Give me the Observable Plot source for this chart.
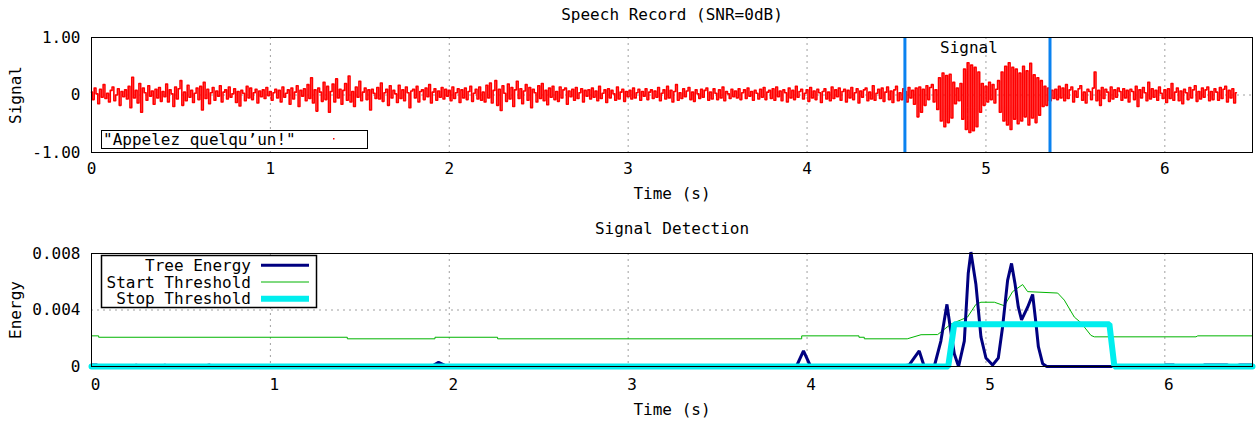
<!DOCTYPE html>
<html>
<head>
<meta charset="utf-8">
<script src="https://cdn.jsdelivr.net/npm/d3@7"></script>
<script src="https://cdn.jsdelivr.net/npm/@observablehq/plot@0.6"></script>
<style>
  body { margin: 0; background: white; }
  #chart svg { display: block; }
</style>
</head>
<body>
<div id="chart"></div>
<script>
// ---------- data ----------
const sampleStep = 0.01; // seconds between signal samples
const signal = [
 0.05,-0.08,0.12,0.02,-0.15,0.10,-0.04,0.18,-0.06,0.03,-0.12,0.08,0.14,-0.10,0.00,0.11,-0.18,0.06,-0.03,0.09,
 -0.07,0.15,-0.22,0.31,-0.05,0.08,-0.14,0.20,-0.30,0.12,0.04,-0.09,0.16,-0.02,0.07,-0.16,0.10,-0.05,0.13,-0.11,
 0.06,-0.03,0.19,-0.12,0.09,0.02,-0.20,0.14,-0.07,0.11,0.25,-0.18,0.05,-0.10,0.17,-0.04,0.08,-0.13,0.03,0.12,
 -0.08,0.15,-0.26,0.22,-0.06,0.10,-0.15,0.04,0.13,-0.09,0.07,-0.02,0.16,-0.12,0.05,0.09,-0.07,0.14,-0.04,0.02,
 0.11,-0.13,0.06,-0.19,0.08,0.03,-0.10,0.15,-0.05,0.12,-0.08,0.04,0.10,-0.14,0.07,-0.03,0.09,-0.06,0.13,-0.01,
 0.06,-0.09,0.04,0.10,-0.05,0.08,-0.12,0.14,-0.04,0.03,0.09,-0.16,0.12,-0.07,0.05,0.16,-0.20,0.08,-0.02,0.11,
 -0.10,0.18,-0.06,0.30,-0.14,0.09,-0.28,0.12,0.05,-0.11,0.22,-0.08,0.15,-0.30,0.06,0.19,-0.12,0.28,-0.05,0.10,
 -0.16,0.08,0.20,-0.09,0.33,-0.12,0.06,-0.20,0.14,-0.04,0.24,-0.10,0.05,0.12,-0.08,0.09,-0.26,0.10,0.03,-0.06,
 0.13,-0.07,0.21,-0.11,0.04,0.10,-0.18,0.16,-0.05,0.08,0.02,-0.13,0.17,-0.06,0.09,-0.10,0.14,0.04,-0.22,0.07,
 0.10,-0.05,0.15,-0.12,0.06,0.09,-0.08,0.12,-0.03,0.18,-0.14,0.05,0.11,-0.09,0.07,-0.04,0.13,-0.07,0.10,-0.02,
 0.08,-0.10,0.14,-0.06,0.04,0.11,-0.13,0.09,-0.05,0.12,-0.08,0.06,0.15,-0.11,0.03,0.10,-0.07,0.14,-0.09,0.05,
 -0.12,0.17,-0.05,0.21,-0.14,0.08,0.25,-0.18,0.10,-0.27,0.16,0.03,-0.11,0.19,-0.07,0.13,-0.20,0.09,0.24,-0.06,
 0.11,-0.15,0.07,0.18,-0.09,0.13,-0.22,0.10,0.04,-0.12,0.16,-0.06,0.20,-0.10,0.08,-0.17,0.12,-0.04,0.15,-0.08,
 0.06,-0.11,0.14,-0.05,0.09,0.12,-0.16,0.07,-0.03,0.10,-0.09,0.13,-0.06,0.04,0.11,-0.12,0.08,-0.02,0.09,-0.07,
 0.12,-0.04,0.07,-0.10,0.15,-0.06,0.03,0.09,-0.13,0.11,-0.05,0.08,0.02,-0.09,0.14,-0.07,0.05,0.10,-0.11,0.06,
 -0.03,0.08,-0.07,0.12,-0.05,0.04,0.10,-0.09,0.06,-0.02,0.11,-0.08,0.05,0.09,-0.06,0.07,-0.04,0.13,-0.10,0.03,
 0.09,-0.07,0.15,-0.05,0.08,-0.12,0.06,0.18,-0.09,0.04,-0.06,0.11,-0.03,0.07,0.13,-0.08,0.05,-0.11,0.09,0.02,
 -0.06,0.10,-0.04,0.08,0.12,-0.09,0.05,-0.07,0.11,0.03,-0.08,0.09,-0.05,0.14,-0.10,0.06,0.02,-0.06,0.10,-0.03,
 0.07,-0.05,0.11,-0.08,0.04,0.09,-0.06,0.12,-0.02,0.06,-0.09,0.08,0.03,-0.07,0.10,-0.04,0.13,-0.08,0.05,0.08,
 -0.06,0.11,-0.09,0.14,-0.03,0.07,-0.10,0.09,0.04,-0.12,0.12,-0.05,0.08,-0.08,0.15,-0.04,0.06,0.10,-0.07,0.03,
 0.09,-0.11,0.13,-0.05,0.07,-0.08,0.10,0.04,-0.13,0.06,0.11,-0.07,0.05,-0.10,0.14,-0.06,0.09,-0.03,0.12,-0.09,
 0.06,0.10,-0.12,0.08,-0.05,0.13,-0.08,0.04,0.11,-0.14,0.07,-0.04,0.09,0.12,-0.10,0.05,-0.07,0.16,-0.09,0.03,
 0.10,-0.06,0.12,-0.11,0.05,0.14,-0.08,0.07,-0.13,0.09,0.15,-0.10,0.04,-0.08,0.11,0.06,-0.12,0.13,-0.05,0.08,
 -0.16,0.12,-0.38,0.14,-0.30,0.10,-0.18,0.16,-0.08,0.13,0.18,-0.12,0.09,-0.25,0.30,-0.45,0.38,-0.55,0.34,-0.48,
 0.36,-0.40,0.22,-0.15,0.12,-0.10,0.20,-0.42,0.45,-0.60,0.56,-0.65,0.52,-0.62,0.48,-0.55,0.40,-0.30,0.20,-0.18,
 0.15,-0.12,0.22,-0.08,0.18,-0.14,0.10,0.25,-0.30,0.40,-0.45,0.50,-0.52,0.56,-0.60,0.48,-0.42,0.45,-0.50,0.38,
 -0.45,0.50,-0.38,0.42,-0.52,0.55,-0.40,0.35,-0.48,0.30,-0.35,0.25,-0.20,0.15,-0.18,0.12,-0.10,0.08,-0.06,0.10,
 -0.08,0.15,-0.05,0.12,-0.10,0.18,-0.06,0.09,0.14,-0.12,0.07,-0.04,0.11,0.16,-0.09,0.05,-0.14,0.10,0.06,-0.08,
 0.12,0.40,-0.10,0.08,-0.18,0.13,-0.06,0.10,0.05,-0.11,0.14,-0.07,0.09,-0.04,0.12,0.06,-0.09,0.11,-0.05,0.08,
 -0.12,0.10,0.06,-0.08,0.15,-0.20,0.09,-0.05,0.13,0.04,-0.10,0.22,-0.07,0.11,-0.04,0.08,-0.09,0.14,0.03,-0.06,
 0.09,-0.13,0.11,-0.06,0.20,-0.09,0.05,0.12,-0.10,0.07,-0.15,0.10,0.04,-0.08,0.13,-0.05,0.09,0.16,-0.11,0.06,
 -0.07,0.12,-0.04,0.09,0.14,-0.10,0.06,-0.08,0.11,0.05,-0.09,0.13,-0.06,0.10,0.15,-0.12,0.08,-0.05,0.11,-0.14,
 0.04
];
const signalBounds = [4.547, 5.358];
const signalLabel = "Signal";
const signalLabelPos = [4.905, 0.82];

const treeT = [0,0.03,0.06,0.22,0.25,0.28,0.38,0.41,0.44,0.62,0.66,0.69,1.90,1.94,1.99,3.94,3.98,4.02,4.52,4.57,4.627,4.655,4.711,4.748,4.782,4.80,4.823,4.847,4.879,4.901,4.916,4.944,4.972,5.0,5.037,5.069,5.093,5.121,5.143,5.162,5.181,5.199,5.233,5.261,5.28,5.293,5.317,5.34,5.98,6.0,6.05,6.08,6.2,6.22,6.35,6.38,6.42,6.49];
const treeE = [0.0001,0.0001,0,0,0.0001,0,0,0.0001,0,0,0.0001,0,0,0.0003,0,0,0.0011,0,0,0.0001,0.0011,0,0,0.0018,0.0044,0.0028,0.0009,0,0.0018,0.0066,0.0081,0.0058,0.0021,0.0006,0.0001,0.0006,0.0028,0.0061,0.0073,0.0059,0.0042,0.0033,0.0042,0.0051,0.003,0.0014,0.0002,0,0,0.0001,0.0001,0,0,0.0001,0.0001,0,0.0001,0.0001];

const startT = [0,0.04,0.04,1.43,1.43,1.92,1.92,2.27,2.27,3.97,3.97,4.29,4.29,4.32,4.32,4.56,4.637,4.73,4.804,4.897,4.944,4.972,5.047,5.103,5.149,5.205,5.233,5.401,5.438,5.494,5.531,5.587,5.606,6.174,6.184,6.49];
const startV = [0.00217,0.00217,0.00207,0.00207,0.00196,0.00196,0.00207,0.00207,0.00196,0.00196,0.00217,0.00217,0.00207,0.00207,0.00196,0.00196,0.00225,0.00226,0.003,0.0035,0.0044,0.00455,0.00455,0.0043,0.0053,0.0058,0.0053,0.0052,0.0047,0.0035,0.0031,0.0022,0.0021,0.0021,0.00217,0.00217];

const stopT = [0,4.789,4.823,5.69,5.718,6.49];
const stopV = [0,0,0.003,0.003,0,0];

const xTicks = [0,1,2,3,4,5,6];
const xDomain = [0, 6.49];
const signalYTicks = [-1, 0, 1];
const signalYLabels = ["-1.00", "0", "1.00"];
const energyYTicks = [0, 0.004, 0.008];
const energyYLabels = ["0", "0.004", "0.008"];

const seriesNames = ["Tree Energy", "Start Threshold", "Stop Threshold"];
const seriesColors = ["#000080", "#00b400", "#00eeee"];
const seriesWidths = [3, 1, 6];
const recordName = "\"Appelez quelqu’un!\"";

// ---------- tables ----------
const signalData = signal.map((v, i) => ({t: i * sampleStep, v}));
const tree = treeT.map((t, i) => ({t, v: treeE[i]}));
const start = startT.map((t, i) => ({t, v: startV[i]}));
const stop = stopT.map((t, i) => ({t, v: stopV[i]}));

const FONT = "DejaVu Sans Mono";
const style = {fontFamily: FONT, fontSize: "16px", color: "black", background: "white", overflow: "visible"};
const gridStyle = {stroke: "#a0a0a0", strokeOpacity: 1, strokeDasharray: "2,4", strokeWidth: 1};

// ---------- top panel ----------
const topChart = Plot.plot({
  width: 1256, height: 210,
  marginLeft: 91, marginRight: 4, marginTop: 37, marginBottom: 58,
  style,
  x: {domain: xDomain},
  y: {domain: [-1, 1]},
  marks: [
    Plot.gridX(xTicks.slice(1), gridStyle),
    Plot.gridY([0], gridStyle),
    Plot.line(signalData, {x: "t", y: "v", stroke: "red", strokeWidth: 1.6, curve: "step"}),
    Plot.ruleX(signalBounds, {stroke: "#0a82f0", strokeWidth: 3}),
    Plot.text([signalLabel], {x: () => signalLabelPos[0], y: () => signalLabelPos[1], text: d => d, fill: "black"}),
    Plot.frame({stroke: "black"}),
    Plot.axisX(xTicks, {tickSize: 0, tickPadding: 10, tickFormat: d => String(d), label: null}),
    Plot.axisY(signalYTicks, {tickSize: 0, tickPadding: 11, tickFormat: (d, i) => signalYLabels[i], label: null}),
    Plot.text(["Speech Record (SNR=0dB)"], {frameAnchor: "top", dy: -23, lineAnchor: "middle", text: d => d}),
    Plot.text(["Time (s)"], {frameAnchor: "bottom", dy: 41, lineAnchor: "middle", text: d => d}),
    Plot.text(["Signal"], {frameAnchor: "left", dx: -76, rotate: -90, textAnchor: "middle", text: d => d})
  ]
});

// legend for top panel
{
  const svg = d3.select(topChart);
  const g = svg.append("g").attr("text-anchor", "start");
  g.append("rect").attr("x", 101.5).attr("y", 130.5).attr("width", 266).attr("height", 18)
    .attr("fill", "white").attr("stroke", "black").attr("stroke-width", 1);
  g.append("text").attr("x", 103).attr("y", 139).attr("dy", "0.35em").attr("text-anchor", "start")
    .attr("font-family", FONT).attr("font-size", 16).text(recordName);
  g.append("rect").attr("x", 333).attr("y", 138).attr("width", 1.5).attr("height", 1.5).attr("fill", "red");
}

// ---------- bottom panel ----------
const bottomChart = Plot.plot({
  width: 1256, height: 211,
  marginLeft: 91, marginRight: 4, marginTop: 43, marginBottom: 55,
  style,
  x: {domain: xDomain},
  y: {domain: [0, 0.008]},
  marks: [
    Plot.gridX(xTicks.slice(1), gridStyle),
    Plot.gridY(energyYTicks.slice(1), gridStyle),
    Plot.line(start, {x: "t", y: "v", stroke: seriesColors[1], strokeWidth: seriesWidths[1]}),
    Plot.line(tree, {x: "t", y: "v", stroke: seriesColors[0], strokeWidth: seriesWidths[0], strokeLinejoin: "miter"}),
    Plot.line(stop, {x: "t", y: "v", stroke: seriesColors[2], strokeWidth: seriesWidths[2], strokeLinejoin: "miter"}),
    Plot.frame({stroke: "black"}),
    Plot.axisX(xTicks, {tickSize: 0, tickPadding: 12, dx: 4, tickFormat: d => String(d), label: null}),
    Plot.axisY(energyYTicks, {tickSize: 0, tickPadding: 11, tickFormat: (d, i) => energyYLabels[i], label: null}),
    Plot.text(["Signal Detection"], {frameAnchor: "top", dy: -25, lineAnchor: "middle", text: d => d}),
    Plot.text(["Time (s)"], {frameAnchor: "bottom", dy: 43, lineAnchor: "middle", text: d => d}),
    Plot.text(["Energy"], {frameAnchor: "left", dx: -76, rotate: -90, textAnchor: "middle", text: d => d})
  ]
});

// legend for bottom panel
{
  const svg = d3.select(bottomChart);
  const g = svg.append("g");
  g.append("rect").attr("x", 101.5).attr("y", 45.5).attr("width", 215).attr("height", 52)
    .attr("fill", "white").attr("stroke", "black").attr("stroke-width", 1.5);
  seriesNames.forEach((name, i) => {
    const y = 55.3 + i * 16.7;
    g.append("text").attr("x", 251).attr("y", y).attr("dy", "0.35em").attr("text-anchor", "end")
      .attr("font-family", FONT).attr("font-size", 16).text(name);
    g.append("line").attr("x1", 261).attr("x2", 309).attr("y1", y).attr("y2", y)
      .attr("stroke", seriesColors[i]).attr("stroke-width", seriesWidths[i]);
  });
}

const chart = document.getElementById("chart");
chart.appendChild(topChart);
chart.appendChild(bottomChart);
</script>
</body>
</html>
